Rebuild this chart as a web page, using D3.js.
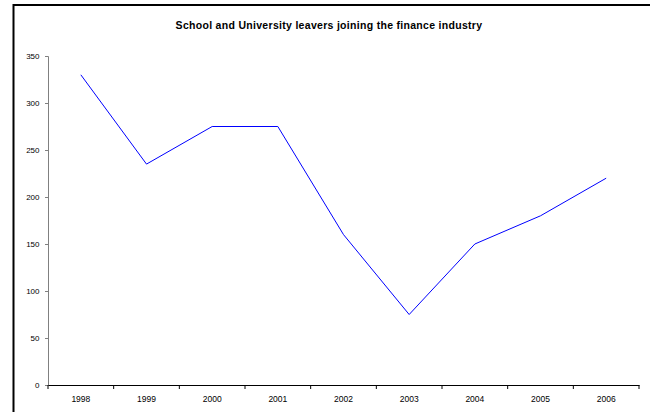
<!DOCTYPE html>
<html>
<head>
<meta charset="utf-8">
<script src="https://cdn.jsdelivr.net/npm/d3@7"></script>
<style>
  body { margin: 0; background: #fff; }
  svg { display: block; font-family: "Liberation Sans", Arial, sans-serif; }
</style>
</head>
<body>
<div id="chart"></div>
<script>
// data
var years = ["1998", "1999", "2000", "2001", "2002", "2003", "2004", "2005", "2006"];
var leavers = [330, 235, 275, 275, 160, 75, 150, 180, 220];
var yTicks = [0, 50, 100, 150, 200, 250, 300, 350];

var W = 650, H = 412;
var margin = { top: 56, right: 11, bottom: 27, left: 48 },
    width = W - margin.left - margin.right,
    height = H - margin.top - margin.bottom;

var root = d3.select("#chart")
    .append("svg")
    .attr("width", W)
    .attr("height", H);

// outer frame (only top and left show in the window)
root.append("rect")
    .attr("x", 13.5)
    .attr("y", 5)
    .attr("width", W + 20)
    .attr("height", H + 20)
    .style("fill", "none")
    .style("stroke", "#000")
    .style("stroke-width", 2);

// title
root.append("text")
    .attr("x", 329)
    .attr("y", 28.5)
    .attr("text-anchor", "middle")
    .style("font-size", "10.5px")
    .style("letter-spacing", "0.3px")
    .style("font-weight", "bold")
    .text("School and University leavers joining the finance industry");

var svg = root.append("g")
    .attr("transform", "translate(" + margin.left + "," + margin.top + ")");

var x = d3.scaleBand()
    .domain(years)
    .range([0, width]);

var y = d3.scaleLinear()
    .domain([0, 350])
    .range([height, 0]);

// Y axis
var yAxis = svg.append("g")
    .call(d3.axisLeft(y).tickValues(yTicks).tickSize(3).tickPadding(5.5));
yAxis.select(".domain").attr("stroke", "#808080");
yAxis.selectAll(".tick line").attr("stroke", "#808080");
yAxis.selectAll("text").style("font-size", "8px").attr("fill", "#000");

// X axis, ticks between categories
var xAxis = svg.append("g")
    .attr("transform", "translate(0," + height + ")")
    .call(d3.axisBottom(x).tickSize(0).tickPadding(11));
xAxis.select(".domain").attr("stroke", "#000");
xAxis.selectAll("text").style("font-size", "8.5px").attr("fill", "#000");

svg.append("g")
    .selectAll("line")
    .data(years.concat(["end"]))
    .enter()
    .append("line")
    .attr("x1", function (d, i) { return i * x.step(); })
    .attr("x2", function (d, i) { return i * x.step(); })
    .attr("y1", height)
    .attr("y2", height + 4)
    .attr("stroke", "#000");

// the line
var line = d3.line()
    .x(function (d, i) { return x(years[i]) + x.bandwidth() / 2; })
    .y(function (d) { return y(d); });

svg.append("path")
    .datum(leavers)
    .attr("d", line)
    .style("fill", "none")
    .style("stroke", "#0000ff")
    .style("stroke-width", 1);
</script>
</body>
</html>
